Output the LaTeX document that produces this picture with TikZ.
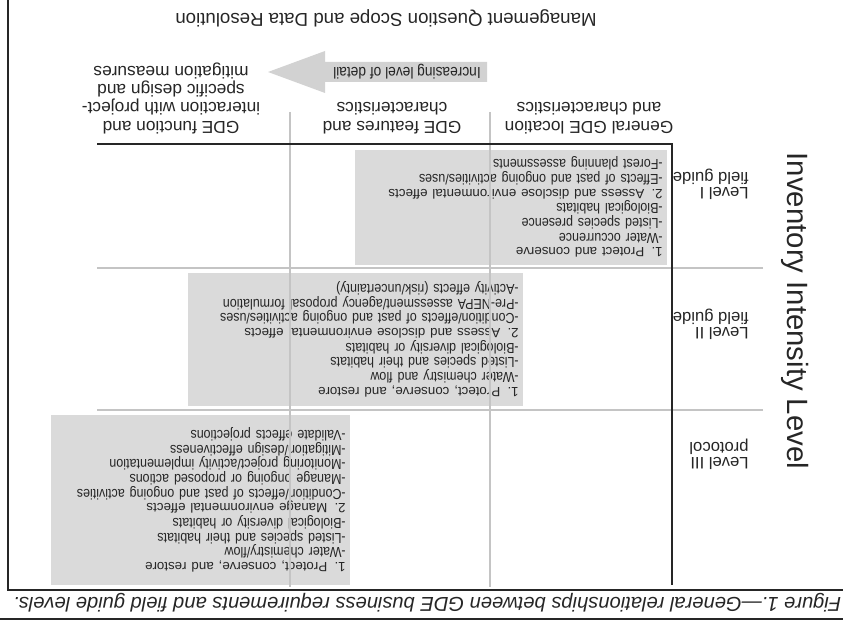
\documentclass[tikz,border=0pt]{standalone}
\usepackage{fontspec}
\setmainfont{Liberation Sans}
\newfontfamily\narrowsf[FakeStretch=0.86]{Liberation Sans}
\usetikzlibrary{positioning}
\definecolor{cellgray}{HTML}{DADADA}
\definecolor{arrowgray}{HTML}{D2D2D2}
\definecolor{linegray}{HTML}{C4C4C4}
\definecolor{inkgray}{HTML}{262626}
\tikzset{
	axisline/.style={draw=inkgray, line width=1.3pt},
	gridline/.style={draw=linegray, line width=0.8pt},
	frameline/.style={draw=inkgray, line width=0.9pt},
	cellbox/.style={fill=cellgray, anchor=north west, align=left, inner xsep=3pt, inner ysep=2pt, text=inkgray, font=\fontsize{11}{11}\selectfont},
	colhead/.style={anchor=north, align=center, inner sep=0, text=inkgray, font=\fontsize{13}{13.7}\selectfont},
	rowlabel/.style={anchor=west, align=left, inner sep=0, text=inkgray, font=\fontsize{12.5}{11.5}\selectfont},
	axistitle/.style={inner sep=0, text=inkgray}
}
\newcommand{\cellhead}[1]{{\fontsize{10}{11}\selectfont #1}}
\newcommand{\cellitem}[1]{{\narrowsf\fontsize{10.9}{11}\selectfont #1}}

\begin{document}
\begin{tikzpicture}[x=0.75pt,y=0.75pt]
	\useasboundingbox (0,0) rectangle (843,623);
	\begin{scope}[rotate around={180:(421.5,311.5)}, transform shape]
	%%% caption and frame
	\draw[frameline, line width=1.1pt] (-5,619) -- (848,619);
	\node[anchor=west, inner sep=0, text=inkgray, font=\fontsize{15.1}{16}\selectfont\itshape] (caption) at (1.5,603)
		{Figure 1.---General relationships between GDE business requirements and field guide levels.};
	\draw[frameline] (-5,590) -- (835,590) -- (835,-5);
	
	%%% cells
	\node[cellbox, text width=228pt, minimum height=86.25pt] (cellI) at (176,265) {%
		\cellhead{1. Protect and conserve}\\
		\cellitem{-Water occurrence}\\
		\cellitem{-Listed species presence}\\
		\cellitem{-Biological habitats}\\
		\cellhead{2. Assess and disclose environmental effects}\\
		\cellitem{-Effects of past and ongoing activities/uses}\\
		\cellitem{-Forest planning assessments}};
	\node[cellbox, text width=245pt, minimum height=99.75pt] (cellII) at (320,406) {%
		\cellhead{1. Protect, conserve, and restore}\\
		\cellitem{-Water chemistry and flow}\\
		\cellitem{-Listed species and their habitats}\\
		\cellitem{-Biological diversity or habitats}\\
		\cellhead{2. Assess and disclose environmental effects}\\
		\cellitem{-Condition/effects of past and ongoing activities/uses}\\
		\cellitem{-Pre-NEPA assessment/agency proposal formulation}\\
		\cellitem{-Activity effects (risk/uncertainty)}};
	\node[cellbox, text width=218pt, minimum height=127.5pt] (cellIII) at (493,585) {%
		\cellhead{1. Protect, conserve, and restore}\\
		\cellitem{-Water chemistry/flow}\\
		\cellitem{-Listed species and their habitats}\\
		\cellitem{-Biological diversity or habitats}\\
		\cellhead{2. Manage environmental effects}\\
		\cellitem{-Condition/effects of past and ongoing activities}\\
		\cellitem{-Manage ongoing or proposed actions}\\
		\cellitem{-Monitoring project/activity implementation}\\
		\cellitem{-Mitigation/design effectiveness}\\
		\cellitem{-Validate effects projections}};
	
	%%% grid and axes
	\draw[gridline] (353,112) -- (353,587);
	\draw[gridline] (553,112) -- (553,587);
	\draw[gridline] (80,268) -- (746,268);
	\draw[gridline] (80,410) -- (746,410);
	\coordinate (corner) at (171,144);
	\draw[axisline] (746,144) -- (corner) -- (171,585);
	
	%%% row labels
	\node[rowlabel] (lvlI) at (94,184) {Level I\\field guide};
	\node[rowlabel] (lvlII) at (94,324) {Level II\\field guide};
	\node[rowlabel] (lvlIII) at (94,454) {Level III\\protocol};
	\node[axistitle, rotate=90, font=\fontsize{22}{22}\selectfont] (intensity) at (48,311) {Inventory Intensity Level};
	
	%%% column headers
	\node[colhead] (hdGeneral) at (254,134) {General GDE location\\and characteristics};
	\node[colhead] (hdFeatures) at (451,134) {GDE features and\\characteristics};
	\node[colhead] (hdFunction) at (672,134) {GDE function and\\interaction with project-\\specific design and\\mitigation measures};
	
	%%% detail arrow
	\fill[arrowgray] (356,62) -- (518,62) -- (518,51) -- (575,72) -- (518,93) -- (518,82) -- (356,82) -- cycle;
	\node[axistitle, font=\narrowsf\fontsize{12}{13}\selectfont] (detail) at (436,72) {Increasing level of detail};
	\node[axistitle, font=\fontsize{14}{16}\selectfont] (scope) at (457,18) {Management Question Scope and Data Resolution};
	\end{scope}
\end{tikzpicture}
\end{document}
